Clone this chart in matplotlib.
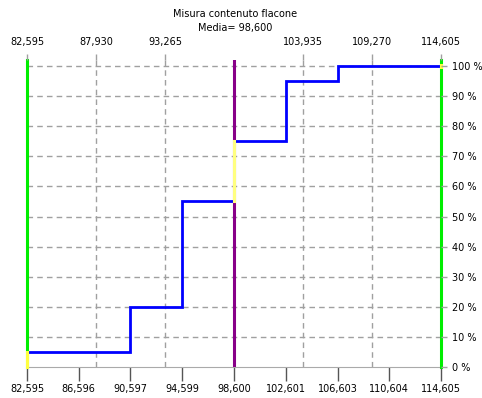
import matplotlib
matplotlib.use("Agg")
import matplotlib.pyplot as plt

# dati
bin_edges = [82595, 86596, 90597, 94599, 98600, 102601, 106603, 110604, 114605]
cum_pct = [5, 5, 20, 55, 75, 95, 100, 100]
top_ticks = [87930, 93265, 103935, 109270]
top_labels = ["82,595", "87,930", "93,265", "103,935", "109,270", "114,605"]
top_label_pos = [82595, 87930, 93265, 103935, 109270, 114605]
x_min = 82595
x_max = 114605
media = 98600
pct_ticks = [0, 10, 20, 30, 40, 50, 60, 70, 80, 90, 100]

GRID = "#a0a0a0"

fig = plt.figure(figsize=(4.82, 3.98), dpi=100)
ax = fig.add_axes([27 / 482, 31 / 398, 414 / 482, 307 / 398])
ax.set_xlim(x_min, x_max)
ax.set_ylim(0, 102)

# griglia tratteggiata
for p in pct_ticks[1:]:
    ax.plot([x_min, x_max], [p, p], color=GRID, lw=1, ls=(0, (4, 3)), zorder=1)
for t in top_ticks:
    ax.plot([t, t], [0, 102], color=GRID, lw=1, ls=(0, (4, 3)), zorder=1)

# curva cumulativa
ax.stairs(cum_pct, bin_edges, baseline=None, color="#0000ff", lw=2, zorder=3)

# linee limite e media
ax.axvline(x_min, color="#00ee00", lw=2.2, zorder=4, clip_on=False)
ax.axvline(x_max, color="#00ee00", lw=2.2, zorder=4, clip_on=False)
ax.axvline(media, color="#880088", lw=2.2, zorder=4)

# tratti gialli sui salti lungo le linee
i_med = bin_edges.index(media)
ax.plot([x_min, x_min], [0, cum_pct[0]], color="#ffff40", lw=2.2, zorder=5, clip_on=False)
ax.plot([media, media], [cum_pct[i_med - 1], cum_pct[i_med]], color="#ffff80", lw=2.2, zorder=5)
ax.plot([x_max, x_max], [cum_pct[-1] - 0.4, cum_pct[-1] + 0.4], color="#ffff40", lw=2.2, zorder=5, clip_on=False)

# asse inferiore
ax.set_xticks(bin_edges)
ax.set_xticklabels([f"{v:,}" for v in bin_edges])
ax.tick_params(axis="x", direction="out", length=10, width=1, color="#555555",
               labelsize=7, pad=2)
ax.set_yticks([])
for s in ["top", "left", "right"]:
    ax.spines[s].set_visible(False)
ax.spines["bottom"].set_color("#aaaaaa")

# asse superiore
axt = ax.twiny()
axt.set_xlim(x_min, x_max)
axt.set_xticks(top_label_pos)
axt.set_xticklabels(top_labels)
axt.tick_params(axis="x", direction="out", length=4, width=1, color=GRID,
                labelsize=7, pad=5)
for s in axt.spines.values():
    s.set_visible(False)

# asse destro percentuali
axr = ax.twinx()
axr.set_ylim(0, 102)
axr.set_yticks(pct_ticks)
axr.set_yticklabels([f"{p} %" for p in pct_ticks])
axr.tick_params(axis="y", direction="out", length=4, width=1, color=GRID,
                labelsize=7, pad=4)
for s in axr.spines.values():
    s.set_visible(False)

fig.text(235 / 482, 1 - 9 / 398, "Misura contenuto flacone\nMedia= 98,600",
         ha="center", va="top", fontsize=7, linespacing=1.45)

fig.savefig("out.png", dpi=100)
